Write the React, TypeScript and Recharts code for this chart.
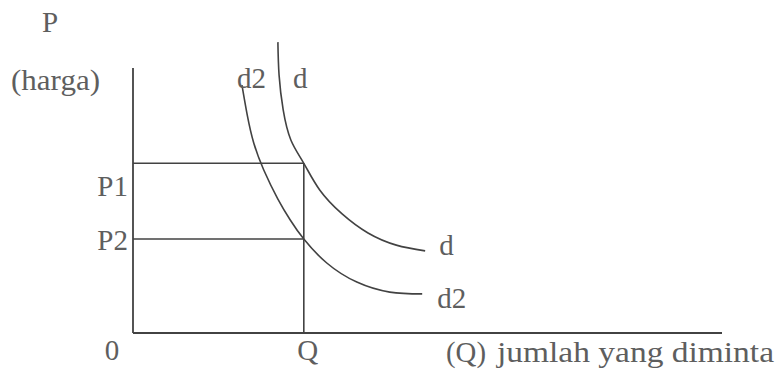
import React from 'react';
import { LineChart, Line, XAxis, YAxis, ReferenceLine } from 'recharts';

// quantity / price reading points of the two demand curves
const qValue = 29;
const p1Value = 56;
const p2Value = 31;
const priceAxisTop = 87.5;

const dQty = [24.6, 24.8, 25.5, 26.8, 29, 31.7, 35.5, 39.9, 44.7, 49.6];
const dPrice = [96, 85.1, 73.6, 63.7, 56, 47.2, 39.3, 33, 29, 27.1];
const d2Qty = [18.5, 19.4, 20.5, 22.2, 24.6, 26.7, 29, 32.9, 38, 43.6, 49.1];
const d2Price = [81.8, 71.9, 62.7, 53.8, 44.2, 37.3, 31, 23.1, 16.8, 13.5, 12.9];

const xTicks = [0, qValue];
const xTickLabels = ['0', 'Q'];
const yTicks = [p1Value, p2Value];
const yTickLabels = ['P1', 'P2'];

const dData = dQty.map((q, i) => ({ q, p: dPrice[i] }));
const d2Data = d2Qty.map((q, i) => ({ q, p: d2Price[i] }));

const INK = '#424242';
const TEXT = '#5e5e5e';
const FONT = "'Liberation Serif', 'Times New Roman', serif";
const FS = 29;

const txt = { fontFamily: FONT, fontSize: FS, fill: TEXT };

// label at first and last point of a curve
const endLabels = (
  count: number,
  first: { text: string; dx: number; dy: number },
  last: { text: string; dx: number; dy: number }
) => (props: any) => {
  const { x, y, index } = props;
  const cfg = index === 0 ? first : index === count - 1 ? last : null;
  if (!cfg) return <g key={`l-${index}`} />;
  return (
    <text key={`l-${index}`} x={x + cfg.dx} y={y + cfg.dy} {...txt}>
      {cfg.text}
    </text>
  );
};

const XTick = (props: any) => {
  const { x, y, payload } = props;
  const i = xTicks.indexOf(payload.value);
  const dx = i === 0 ? -21 : 4;
  return (
    <text x={x + dx} y={y + 27} textAnchor="middle" {...txt}>
      {xTickLabels[i]}
    </text>
  );
};

const yTickDy: Record<string, number> = { P1: 33, P2: 11 };

const YTick = (props: any) => {
  const { x, y, payload } = props;
  const label = yTickLabels[yTicks.indexOf(payload.value)];
  return (
    <text x={x - 5} y={y + yTickDy[label]} textAnchor="end" {...txt}>
      {label}
    </text>
  );
};

const XLabel = (props: any) => {
  const { viewBox } = props;
  const y = viewBox.y + 29;
  return (
    <g>
      <text x={446} y={y} textLength={40} lengthAdjust="spacingAndGlyphs" {...txt}>(Q)</text>
      <text x={497} y={y} textLength={277} lengthAdjust="spacingAndGlyphs" {...txt}>
        jumlah yang diminta
      </text>
    </g>
  );
};

const YLabel = () => (
  <g>
    <text x={50} y={32} textAnchor="middle" {...txt}>P</text>
    <text x={11} y={90} textLength={89} lengthAdjust="spacingAndGlyphs" {...txt}>(harga)</text>
  </g>
);

export default function App() {
  return (
    <div style={{ position: 'absolute', left: 0, top: 0, width: 778, height: 372, background: '#ffffff' }}>
      <LineChart width={778} height={372} margin={{ top: 30, right: 56, bottom: 9, left: 73 }}>
        <XAxis
          type="number"
          dataKey="q"
          domain={[0, 100]}
          ticks={xTicks}
          tick={<XTick />}
          tickLine={false}
          tickSize={0}
          tickMargin={0}
          axisLine={{ stroke: INK, strokeWidth: 1.8 }}
          height={30}
          allowDataOverflow
          label={<XLabel />}
        />
        <YAxis
          type="number"
          dataKey="p"
          domain={[0, 100]}
          ticks={yTicks}
          tick={<YTick />}
          tickLine={false}
          tickSize={0}
          tickMargin={0}
          axisLine={false}
          width={60}
          allowDataOverflow
          label={<YLabel />}
        />
        <ReferenceLine segment={[{ x: 0, y: 0 }, { x: 0, y: priceAxisTop }]} stroke={INK} strokeWidth={1.8} />
        <ReferenceLine segment={[{ x: 0, y: p1Value }, { x: qValue, y: p1Value }]} stroke={INK} strokeWidth={1.6} />
        <ReferenceLine segment={[{ x: 0, y: p2Value }, { x: qValue, y: p2Value }]} stroke={INK} strokeWidth={1.6} />
        <ReferenceLine segment={[{ x: qValue, y: 0 }, { x: qValue, y: p1Value }]} stroke={INK} strokeWidth={1.6} />
        <Line
          data={dData}
          dataKey="p"
          type="natural"
          stroke={INK}
          strokeWidth={1.6}
          dot={false}
          isAnimationActive={false}
          label={endLabels(dData.length, { text: 'd', dx: 15, dy: 46 }, { text: 'd', dx: 14, dy: 4 })}
        />
        <Line
          data={d2Data}
          dataKey="p"
          type="natural"
          stroke={INK}
          strokeWidth={1.6}
          dot={false}
          isAnimationActive={false}
          label={endLabels(d2Data.length, { text: 'd2', dx: -5, dy: 3 }, { text: 'd2', dx: 15, dy: 14 })}
        />
      </LineChart>
    </div>
  );
}
